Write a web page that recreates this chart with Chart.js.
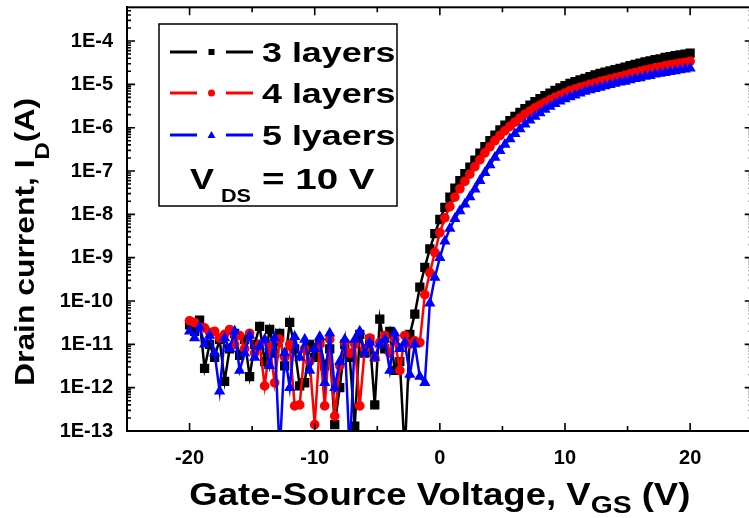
<!DOCTYPE html>
<html>
<head>
<meta charset="utf-8">
<script src="https://cdn.jsdelivr.net/npm/chart.js@4"></script>
<style>
  html, body { margin: 0; padding: 0; background: #fff; overflow: hidden; }
  #wrap { width: 760px; height: 518px; }
</style>
</head>
<body>
<div id="wrap"><canvas id="myChart" width="760" height="518"></canvas></div>
<script>
// gate voltage (V)
const vgs = [
  -20, -19.6, -19.2, -18.8, -18.4, -18, -17.6, -17.2, -16.8, -16.4,
  -16, -15.6, -15.2, -14.8, -14.4, -14, -13.6, -13.2, -12.8, -12.4,
  -12, -11.6, -11.2, -10.8, -10.4, -10, -9.6, -9.2, -8.8, -8.4,
  -8, -7.6, -7.2, -6.8, -6.4, -6, -5.6, -5.2, -4.8, -4.4,
  -4, -3.6, -3.2, -2.8, -2.4, -2, -1.6, -1.2, -0.8, -0.4,
  0, 0.4, 0.8, 1.2, 1.6, 2, 2.4, 2.8, 3.2, 3.6,
  4, 4.4, 4.8, 5.2, 5.6, 6, 6.4, 6.8, 7.2, 7.6,
  8, 8.4, 8.8, 9.2, 9.6, 10, 10.4, 10.8, 11.2, 11.6,
  12, 12.4, 12.8, 13.2, 13.6, 14, 14.4, 14.8, 15.2, 15.6,
  16, 16.4, 16.8, 17.2, 17.6, 18, 18.4, 18.8, 19.2, 19.6,
  20
];

// drain current (A)
const layers3 = [
  2.8e-11, 2.0e-11, 3.6e-11, 2.8e-12, 1.0e-11, 5.0e-12, 1.3e-11, 1.4e-12, 7.9e-12, 1.8e-11,
  5.6e-12, 1.3e-11, 1.8e-12, 1.0e-11, 2.6e-11, 4.0e-12, 2.2e-11, 6.3e-12, 1.8e-11, 3.2e-12,
  3.2e-11, 7.9e-12, 1.1e-12, 1.3e-12, 1.0e-11, 5.0e-12, 1.1e-11, 3.2e-12, 7.9e-12, 1.4e-13,
  1.0e-12, 1.0e-11, 5.0e-12, 1.3e-13, 1.7e-11, 6.3e-12, 1.3e-11, 4.0e-13, 3.8e-11, 7.9e-12,
  2.0e-11, 2.5e-12, 4.0e-12, 3.0e-14, 1.7e-11, 5.0e-11, 2.1e-10, 6.0e-10, 1.6e-9, 3.6e-9,
  7.6e-9, 1.45e-8, 2.5e-8, 4.0e-8, 6.0e-8, 8.7e-8, 1.23e-7, 1.78e-7, 2.57e-7, 3.63e-7,
  5.0e-7, 6.76e-7, 8.9e-7, 1.15e-6, 1.45e-6, 1.82e-6, 2.24e-6, 2.75e-6, 3.31e-6, 3.98e-6,
  4.68e-6, 5.5e-6, 6.3e-6, 7.24e-6, 8.3e-6, 9.3e-6, 1.05e-5, 1.15e-5, 1.26e-5, 1.38e-5,
  1.51e-5, 1.66e-5, 1.78e-5, 1.91e-5, 2.04e-5, 2.19e-5, 2.34e-5, 2.51e-5, 2.69e-5, 2.88e-5,
  3.09e-5, 3.31e-5, 3.47e-5, 3.72e-5, 3.89e-5, 4.17e-5, 4.37e-5, 4.57e-5, 4.79e-5, 5.0e-5,
  5.25e-5
];

const layers4 = [
  3.5e-11, 3.2e-11, 2.5e-11, 2.4e-11, 1.9e-11, 2.0e-11, 1.4e-11, 1.7e-11, 2.2e-11, 1.0e-11,
  1.6e-11, 7.9e-12, 1.8e-11, 6.3e-12, 1.0e-11, 1.1e-12, 8.9e-12, 1.3e-12, 1.3e-11, 5.0e-12,
  1.0e-11, 3.8e-13, 4.0e-13, 7.9e-12, 4.0e-12, 1.4e-13, 1.0e-11, 3.8e-13, 1.3e-11, 2.2e-13,
  3.2e-12, 1.1e-11, 6.3e-12, 1.0e-11, 3.8e-13, 7.9e-12, 1.4e-11, 5.0e-12, 1.1e-11, 1.6e-11,
  6.3e-12, 1.3e-11, 2.5e-12, 1.6e-11, 1.0e-11, 1.2e-11, 1.1e-11, 1.4e-10, 4.5e-10, 1.32e-9,
  3.8e-9, 8.3e-9, 1.51e-8, 2.5e-8, 3.9e-8, 5.75e-8, 8.5e-8, 1.26e-7, 1.82e-7, 2.63e-7,
  3.63e-7, 5.0e-7, 6.6e-7, 8.5e-7, 1.07e-6, 1.35e-6, 1.66e-6, 2.04e-6, 2.4e-6, 2.88e-6,
  3.31e-6, 3.8e-6, 4.37e-6, 5.0e-6, 5.6e-6, 6.3e-6, 7.1e-6, 7.8e-6, 8.5e-6, 9.1e-6,
  1.0e-5, 1.07e-5, 1.15e-5, 1.23e-5, 1.32e-5, 1.41e-5, 1.51e-5, 1.62e-5, 1.74e-5, 1.86e-5,
  2.0e-5, 2.14e-5, 2.24e-5, 2.4e-5, 2.51e-5, 2.69e-5, 2.82e-5, 2.95e-5, 3.09e-5, 3.24e-5,
  3.4e-5
];

const layers5 = [
  2.0e-11, 1.4e-11, 2.5e-11, 1.0e-11, 1.6e-11, 6.3e-12, 8.3e-13, 1.4e-11, 7.9e-12, 2.0e-11,
  2.5e-12, 6.3e-12, 1.6e-11, 5.0e-12, 8.9e-12, 1.3e-11, 3.2e-12, 1.4e-11, 3.0e-14, 6.3e-12,
  1.0e-12, 1.5e-11, 5.0e-12, 1.3e-11, 2.5e-12, 7.9e-12, 1.5e-11, 1.3e-12, 1.8e-11, 1.0e-12,
  4.0e-12, 1.3e-11, 3.0e-14, 1.3e-11, 2.0e-11, 6.3e-12, 1.1e-11, 5.0e-12, 1.0e-11, 1.3e-11,
  2.5e-12, 1.8e-11, 7.9e-12, 1.1e-11, 2.0e-12, 1.0e-11, 1.8e-12, 1.3e-12, 8.9e-11, 3.5e-10,
  1.0e-9, 2.4e-9, 4.7e-9, 7.9e-9, 1.2e-8, 1.7e-8, 2.5e-8, 3.8e-8, 6.0e-8, 9.1e-8,
  1.38e-7, 2.04e-7, 2.95e-7, 4.07e-7, 5.5e-7, 7.2e-7, 9.3e-7, 1.2e-6, 1.48e-6, 1.82e-6,
  2.19e-6, 2.63e-6, 3.09e-6, 3.55e-6, 4.07e-6, 4.57e-6, 5.1e-6, 5.6e-6, 6.2e-6, 6.8e-6,
  7.4e-6, 7.9e-6, 8.5e-6, 9.1e-6, 9.8e-6, 1.05e-5, 1.12e-5, 1.17e-5, 1.26e-5, 1.35e-5,
  1.41e-5, 1.51e-5, 1.58e-5, 1.7e-5, 1.78e-5, 1.86e-5, 1.95e-5, 2.04e-5, 2.14e-5, 2.24e-5,
  2.34e-5
];

const seriesNames = ["3 layers", "4 layers", "5 lyaers"];
const xTicks = [-20, -10, 0, 10, 20];
const yTicks = [1e-13, 1e-12, 1e-11, 1e-10, 1e-9, 1e-8, 1e-7, 1e-6, 1e-5, 1e-4];
const yTickLabels = ["1E-13", "1E-12", "1E-11", "1E-10", "1E-9", "1E-8", "1E-7", "1E-6", "1E-5", "1E-4"];

const FONT = "'Liberation Sans', Arial, sans-serif";

function toPoints(ys) {
  return vgs.map((v, i) => ({ x: v, y: ys[i] }));
}

function textWidth(ctx, str, size) {
  ctx.font = "bold " + size + "px " + FONT;
  return ctx.measureText(str).width;
}

// draws text stretched horizontally by sx, returns drawn width
function stretchText(ctx, str, x, y, size, sx) {
  ctx.save();
  ctx.font = "bold " + size + "px " + FONT;
  ctx.translate(x, y);
  ctx.scale(sx, 1);
  ctx.fillText(str, 0, 0);
  const w = ctx.measureText(str).width * sx;
  ctx.restore();
  return w;
}

function marker(ctx, style, x, y, color) {
  ctx.fillStyle = color;
  ctx.beginPath();
  if (style === "rect") {
    ctx.rect(x - 3, y - 3, 6, 6);
  } else if (style === "circle") {
    ctx.arc(x, y, 3.5, 0, Math.PI * 2);
  } else {
    ctx.moveTo(x, y - 4);
    ctx.lineTo(x + 4, y + 3);
    ctx.lineTo(x - 4, y + 3);
    ctx.closePath();
  }
  ctx.fill();
}

const framePlugin = {
  id: "frame",
  afterDraw(chart) {
    const { ctx, chartArea: a } = chart;
    const x = chart.scales.x;
    const y = chart.scales.y;
    ctx.save();
    ctx.strokeStyle = "#000";
    ctx.lineWidth = 2;
    ctx.strokeRect(a.left, a.top, a.right - a.left, a.bottom - a.top);

    // inward ticks on all four sides
    ctx.lineWidth = 1.6;
    ctx.beginPath();
    for (let v = -20; v <= 20; v += 5) {
      const px = x.getPixelForValue(v);
      const len = v % 10 === 0 ? 8 : 5;
      ctx.moveTo(px, a.bottom); ctx.lineTo(px, a.bottom - len);
      ctx.moveTo(px, a.top); ctx.lineTo(px, a.top + len);
    }
    for (let e = -13; e <= -4; e++) {
      for (let m = 1; m < 10; m++) {
        const v = m * Math.pow(10, e);
        if (v > y.max) break;
        const py = y.getPixelForValue(v);
        const len = m === 1 ? 8 : 4;
        ctx.moveTo(a.left, py); ctx.lineTo(a.left + len, py);
        ctx.moveTo(a.right, py); ctx.lineTo(a.right - len, py);
      }
    }
    ctx.stroke();

    ctx.fillStyle = "#000";
    ctx.textBaseline = "alphabetic";

    // x title: Gate-Source Voltage, V_GS (V)
    const p1 = "Gate-Source Voltage, V", p2 = "GS", p3 = " (V)";
    const raw = textWidth(ctx, p1, 31) + textWidth(ctx, p2, 24) + textWidth(ctx, p3, 31);
    const sxX = 501 / raw;
    let tx = (a.left + a.right) / 2 - 501 / 2;
    const base = 505;
    tx += stretchText(ctx, p1, tx, base, 31, sxX);
    tx += stretchText(ctx, p2, tx, base + 8, 24, sxX);
    stretchText(ctx, p3, tx, base, 31, sxX);

    // y title: Drain current, I_D(A)
    const q1 = "Drain current, I", q2 = "D", q3 = "(A)";
    const rawY = textWidth(ctx, q1, 28) + textWidth(ctx, q2, 21) + textWidth(ctx, q3, 28);
    const sxY = 288 / rawY;
    ctx.save();
    ctx.translate(34, 386);
    ctx.rotate(-Math.PI / 2);
    let ty = 0;
    ty += stretchText(ctx, q1, ty, 0, 28, sxY);
    ty += stretchText(ctx, q2, ty, 15, 21, sxY);
    stretchText(ctx, q3, ty, 0, 28, sxY);
    ctx.restore();

    // legend box
    ctx.fillStyle = "#fff";
    ctx.fillRect(159, 24, 238, 182);
    ctx.strokeStyle = "#000";
    ctx.lineWidth = 1.5;
    ctx.strokeRect(159, 24, 238, 182);
    const colors = ["#000000", "#ff0000", "#0000ff"];
    const styles = ["rect", "circle", "triangle"];
    const rows = [52, 93, 135];
    seriesNames.forEach((name, i) => {
      const ry = rows[i];
      ctx.strokeStyle = colors[i];
      ctx.lineWidth = 3;
      ctx.beginPath();
      ctx.moveTo(170, ry); ctx.lineTo(197, ry);
      ctx.moveTo(226, ry); ctx.lineTo(253, ry);
      ctx.stroke();
      marker(ctx, styles[i], 211.5, ry, colors[i]);
      ctx.fillStyle = "#000";
      stretchText(ctx, name, 262, ry + 10, 28, 1.28);
    });
    ctx.fillStyle = "#000";
    stretchText(ctx, "V", 190, 189, 30, 1.2);
    stretchText(ctx, "DS", 221, 202, 18, 1.2);
    stretchText(ctx, "= 10 V", 262, 189, 29, 1.33);
    ctx.restore();
  }
};

new Chart(document.getElementById("myChart"), {
  type: "line",
  data: {
    datasets: [
      {
        label: seriesNames[0],
        data: toPoints(layers3),
        borderColor: "#000000",
        backgroundColor: "#000000",
        pointStyle: "rect",
        pointRadius: 4.8,
        borderWidth: 2.5,
        order: 2,
      },
      {
        label: seriesNames[1],
        data: toPoints(layers4),
        borderColor: "#ff0000",
        backgroundColor: "#ff0000",
        pointStyle: "circle",
        pointRadius: 3.6,
        borderWidth: 2.5,
        order: 1,
      },
      {
        label: seriesNames[2],
        data: toPoints(layers5),
        borderColor: "#0000ff",
        backgroundColor: "#0000ff",
        pointStyle: "triangle",
        pointRadius: 4,
        borderWidth: 2.5,
        order: 0,
      },
    ],
  },
  options: {
    responsive: false,
    animation: false,
    devicePixelRatio: 1,
    clip: 0,
    layout: { padding: { top: 5, right: 6, left: 0, bottom: 0 } },
    elements: {
      line: { tension: 0 },
      point: { borderWidth: 0, hoverRadius: 4 },
    },
    plugins: {
      legend: { display: false },
      tooltip: { enabled: false },
    },
    scales: {
      x: {
        type: "linear",
        min: -25,
        max: 25,
        grid: { display: false, drawTicks: false },
        border: { display: true, color: "#000", width: 2 },
        afterBuildTicks: (s) => { s.ticks = xTicks.map((v) => ({ value: v })); },
        afterFit: (s) => { s.height = 87; s.paddingLeft = 0; s.paddingRight = 0; },
        ticks: {
          autoSkip: false,
          maxRotation: 0,
          padding: 15,
          color: "#000",
          font: { family: FONT, size: 20, weight: "bold" },
        },
      },
      y: {
        type: "logarithmic",
        min: 1e-13,
        max: 6e-4,
        grid: { display: false, drawTicks: false },
        border: { display: true, color: "#000", width: 2 },
        afterBuildTicks: (s) => { s.ticks = yTicks.map((v) => ({ value: v })); },
        afterFit: (s) => { s.width = 127; s.paddingTop = 0; s.paddingBottom = 0; },
        ticks: {
          autoSkip: false,
          padding: 14,
          color: "#000",
          font: { family: FONT, size: 20, weight: "bold" },
          callback: (value, index) => yTickLabels[index],
        },
      },
    },
  },
  plugins: [framePlugin],
});
</script>
</body>
</html>
